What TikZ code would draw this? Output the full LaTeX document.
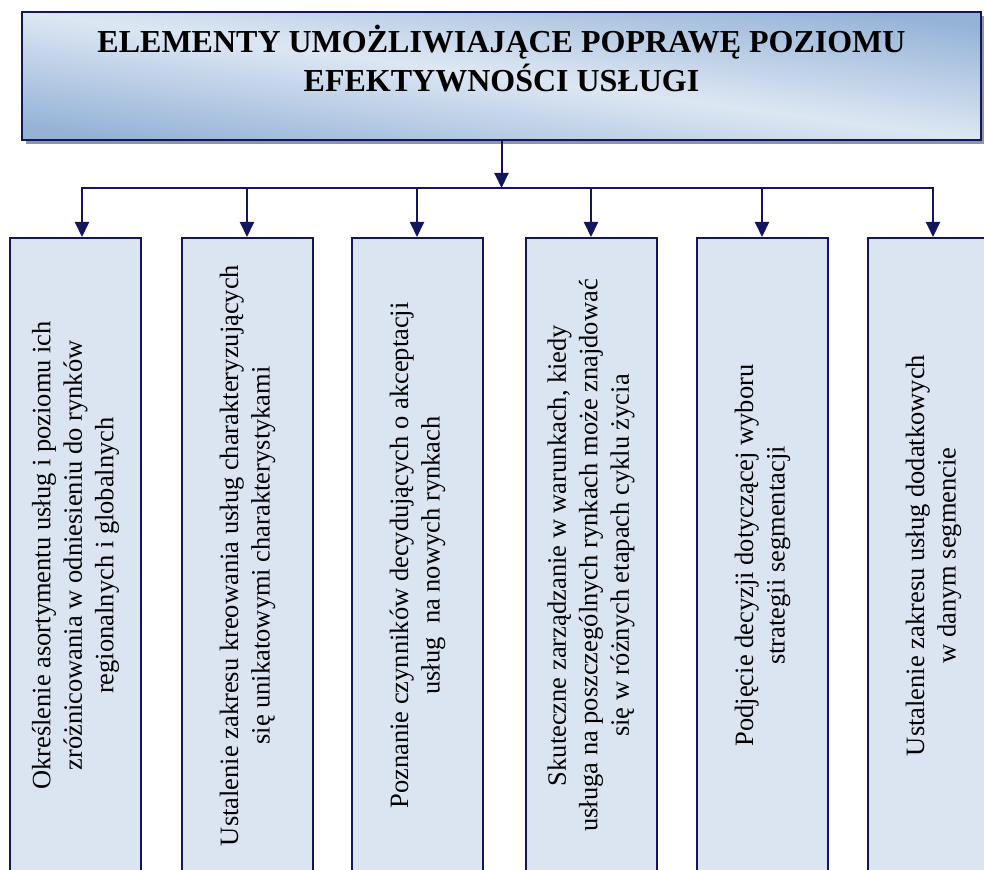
\documentclass[tikz,border=0pt]{standalone}
\usepackage{fontspec}
\setmainfont{Liberation Serif}
\usetikzlibrary{arrows.meta}
\definecolor{granat}{RGB}{20,22,92}
\definecolor{jasny}{RGB}{221,231,243}
\definecolor{ciemny}{RGB}{149,179,215}
\definecolor{wypelnienie}{RGB}{219,229,241}
\definecolor{cien}{RGB}{140,150,166}
\begin{document}
\begin{tikzpicture}[x=0.5pt,y=-0.5pt,>={Triangle[width=7pt,length=7.5pt]},
    ramka/.style={draw=granat,line width=1pt,fill=wypelnienie,minimum width=65.5pt,minimum height=317.5pt,inner sep=0pt},
    opis/.style={rotate=90,align=center,inner sep=0pt,font=\fontsize{13.25}{15.75}\selectfont},
    strzalka/.style={->,draw=granat,fill=granat,line width=1pt}]
  \useasboundingbox (0,0) rectangle (984,870);
  % naglowek z cieniem
  \fill[cien] (26,16) rectangle (985.5,144);
  \node[draw=granat,line width=1pt,minimum width=479.5pt,minimum height=64pt,inner sep=0pt,
        top color=ciemny,bottom color=ciemny,middle color=jasny,shading angle=-7.6] (tytul) at (501.5,76) {};
  \node[align=center,inner sep=0pt,font=\fontsize{16}{19.5}\selectfont\bfseries] (napis) at (501.5,59)
       {ELEMENTY UMOŻLIWIAJĄCE POPRAWĘ POZIOMU\\EFEKTYWNOŚCI USŁUGI};
  % elementy
  \foreach \x/\n in {75.5/1,247.5/2,417.5/3,591/4,762.5/5,933.5/6}
    \node[ramka] (e\n) at (\x,555.5) {};
  \node[opis] (t1) at (e1) {Określenie asortymentu usług i poziomu ich\\zróżnicowania w odniesieniu do rynków\\regionalnych i globalnych};
  \node[opis] (t2) at (e2) {Ustalenie zakresu kreowania usług charakteryzujących\\się unikatowymi charakterystykami};
  \node[opis] (t3) at (e3) {Poznanie czynników decydujących o akceptacji\\usług\ \ na nowych rynkach};
  \node[opis] (t4) at (e4) {Skuteczne zarządzanie w warunkach, kiedy\\usługa na poszczególnych rynkach może znajdować\\się w różnych etapach cyklu życia};
  \node[opis] (t5) at (e5) {Podjęcie decyzji dotyczącej wyboru\\strategii segmentacji};
  \node[opis] (t6) at (e6) {Ustalenie zakresu usług dodatkowych\\w danym segmencie};
  % polaczenia
  \foreach \x/\n in {82/1,247/2,417/3,591/4,762/5,933/6}
    \coordinate (g\n) at (\x,188);
  \draw[strzalka] (tytul.south) -- (tytul.south |- g1);
  \draw[granat,line width=1pt,line cap=rect] (g1) -- (g6);
  \foreach \n in {1,...,6}
    \draw[strzalka] (g\n) -- (g\n |- e\n.north);
\end{tikzpicture}
\end{document}
